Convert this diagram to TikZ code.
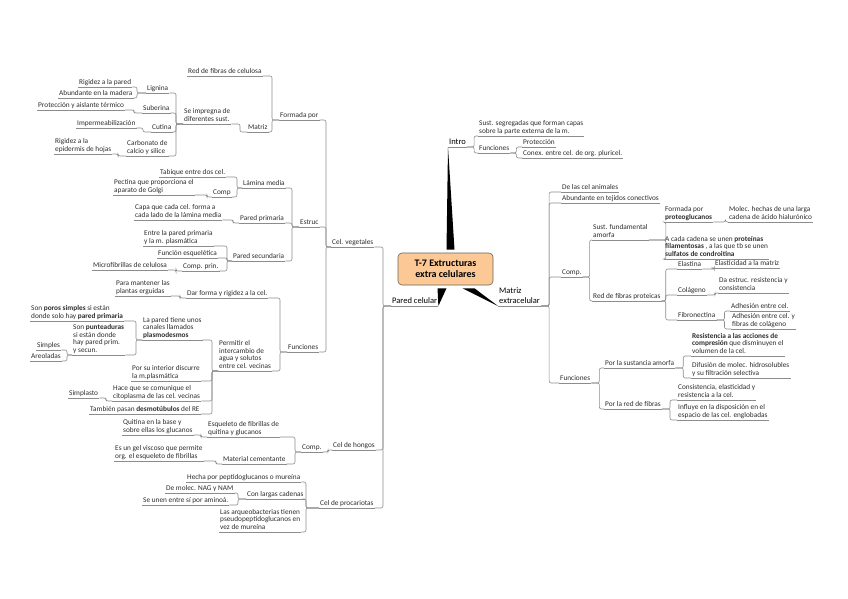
\documentclass[tikz,border=0pt]{standalone}
\usepackage{fontspec}
\setmainfont{Carlito}
\usetikzlibrary{backgrounds}
\definecolor{conncol}{RGB}{140,140,140}
\definecolor{txtcol}{RGB}{45,45,45}
\definecolor{peach}{RGB}{251,200,150}
\definecolor{rootline}{RGB}{110,100,90}
\newcommand\lnk[3][3]{\draw[conn] (#2.south west) -- ++(-#1,0) |- (#3.south east);}
\newcommand\rnk[3][3]{\draw[conn] (#2.south east) -- ++(#1,0) |- (#3.south west);}
\begin{document}
\begin{tikzpicture}[x=1pt,y=-1pt,
  lbl/.style={anchor=south west,font=\fontsize{7.3}{7.6}\selectfont,text=txtcol,align=left,
    inner xsep=1pt,inner ysep=0.8pt,execute at end node={\rule[-1.8pt]{0pt}{2pt}}},
  mainlbl/.style={lbl,font=\fontsize{8.5}{10}\selectfont,text=black},
  conn/.style={draw=conncol,line width=0.6pt,rounded corners=2pt},
  rootbox/.style={draw=rootline,fill=peach,rounded corners=4pt,minimum width=95pt,
    minimum height=32pt,align=center,font=\bfseries\fontsize{10}{11.5}\selectfont,line width=0.6pt,inner sep=1pt}]
\useasboundingbox (0,0) rectangle (848,599);
% root and main branches
\node[rootbox] (root) at (445.5,269) {T-7 Extructuras\\extra celulares};
\node[mainlbl] (intro) at (448,147) {Intro};
\node[mainlbl] (pc) at (391,306) {Pared celular};
\node[mainlbl] (me) at (498,306) {Matriz\\extracelular};
\begin{scope}[on background layer]
\fill[white] (0,0) rectangle (848,599);
\fill[black] ([xshift=1,yshift=3]root.north) -- ([xshift=9,yshift=3]root.north) -- (intro.south west) -- cycle;
\fill[black] ([xshift=-8,yshift=-3]root.south) -- ([xshift=1,yshift=-3]root.south) -- (pc.south east) -- cycle;
\fill[black] ([xshift=17,yshift=-3]root.south) -- ([xshift=29,yshift=-3]root.south) -- (me.south west) -- cycle;
\end{scope}
% left tree
\node[lbl] (cv) at (331,247) {Cel. vegetales};
\node[lbl] (ch) at (332,450) {Cel de hongos};
\node[lbl] (cp) at (319,508) {Cel de procariotas};
\node[lbl] (fp) at (279,120) {Formada por};
\node[lbl] (es) at (299,227) {Estruc};
\node[lbl] (fn) at (287,352) {Funciones};
\node[lbl] (rf) at (187,76) {Red de fibras de celulosa};
\node[lbl] (mz) at (247,132) {Matriz};
\node[lbl] (si) at (183,124) {Se impregna de\\diferentes sust.};
\node[lbl] (lg) at (146,93) {Lignina};
\node[lbl] (sb) at (142,113) {Suberina};
\node[lbl] (ct) at (151,132) {Cutina};
\node[lbl] (cb) at (126,156) {Carbonato de\\calcio y silice};
\node[lbl] (rp) at (78,87) {Rigidez a la pared};
\node[lbl] (am) at (58,98) {Abundante en la madera};
\node[lbl] (pa) at (37,110) {Protección y aislante térmico};
\node[lbl] (im) at (76,128) {Impermeabilización};
\node[lbl] (re) at (54,154) {Rigidez a la\\epidermis de hojas};
\node[lbl] (lm) at (242,188) {Lámina media};
\node[lbl] (pp) at (239,223) {Pared primaria};
\node[lbl] (ps) at (232,261) {Pared secundaria};
\node[lbl] (tb) at (159,177) {Tabique entre dos cel.};
\node[lbl] (cm) at (212,197) {Comp};
\node[lbl] (pe) at (113,195) {Pectina que proporciona el\\aparato de Golgi};
\node[lbl] (cq) at (134,220) {Capa que cada cel. forma a\\cada lado de la lámina media};
\node[lbl] (ep) at (143,246) {Entre la pared primaria\\y la m. plasmática};
\node[lbl] (fe) at (157,258) {Función esquelética};
\node[lbl] (cpr) at (182,271) {Comp. prin.};
\node[lbl] (mc) at (92,270) {Microfibrillas de celulosa};
\node[lbl] (df) at (186,298) {Dar forma y rigidez a la cel.};
\node[lbl] (pi) at (218,371) {Permitir el\\intercambio de\\agua y solutos\\entre cel. vecinas};
\node[lbl] (pm) at (115,296) {Para mantener las\\plantas erguidas};
\node[lbl] (lp) at (142,340) {La pared tiene unos\\canales llamados\\\textbf{plasmodesmos}};
\node[lbl] (pq) at (131,381) {Por su interior discurre\\la m.plasmática};
\node[lbl] (hq) at (112,401) {Hace que se comunique el\\citoplasma de las cel. vecinas};
\node[lbl] (tp) at (89,414) {También pasan \textbf{desmotúbulos} del RE};
\node[lbl] (sp) at (30,321) {Son \textbf{poros simples} si están\\donde solo hay \textbf{pared primaria}};
\node[lbl] (spu) at (72,355) {Son \textbf{punteaduras}\\si están donde\\hay pared prim.\\y secun.};
\node[lbl] (smp) at (36,350) {Simples};
\node[lbl] (ar) at (30,361) {Areoladas};
\node[lbl] (sim) at (68,398) {Simplasto};
\node[lbl] (hc) at (301,452) {Comp.};
\node[lbl] (eq) at (207,437) {Esqueleto de fibrillas de\\quitina y glucanos};
\node[lbl] (mce) at (222,464) {Material cementante};
\node[lbl] (qb) at (122,435) {Quitina en la base y\\sobre ellas los glucanos};
\node[lbl] (gv) at (114,461) {Es un gel viscoso que permite\\org. el esqueleto de fibrillas};
\node[lbl] (hp) at (186,482) {Hecha por peptidoglucanos o mureína};
\node[lbl] (lc) at (246,499) {Con largas cadenas};
\node[lbl] (aq) at (219,532) {Las arqueobacterias tienen\\pseudopeptidoglucanos en\\vez de mureína};
\node[lbl] (dm) at (165,493) {De molec. NAG y NAM};
\node[lbl] (su) at (142,505) {Se unen entre sí por aminoá.};
% right tree
\node[lbl] (ss) at (478,136) {Sust. segregadas que forman capas\\sobre la parte externa de la m.};
\node[lbl] (fi) at (478,153) {Funciones};
\node[lbl] (pro) at (522,147) {Protección};
\node[lbl] (cx) at (522,158) {Conex. entre cel. de org. pluricel.};
\node[lbl] (dl) at (561,192) {De las cel animales};
\node[lbl] (ab) at (561,203) {Abundante en tejidos conectivos};
\node[lbl] (co) at (561,277) {Comp.};
\node[lbl] (fu) at (559,383) {Funciones};
\node[lbl] (sf) at (592,240) {Sust. fundamental\\amorfa};
\node[lbl] (rfp) at (592,301) {Red de fibras proteicas};
\node[lbl] (fpg) at (664,222) {Formada por\\\textbf{proteoglucanos}};
\node[lbl] (ac) at (664,259) {A cada cadena se unen \textbf{proteínas}\\\textbf{filamentosas} , a las que tb se unen\\\textbf{sulfatos de condroitina}};
\node[lbl] (mh) at (728,222) {Molec. hechas de una larga\\cadena de ácido hialurónico};
\node[lbl] (el) at (677,269) {Elastina};
\node[lbl] (cg) at (677,295) {Colágeno};
\node[lbl] (fb) at (677,320) {Fibronectina};
\node[lbl] (em) at (714,268) {Elasticidad a la matriz};
\node[lbl] (de) at (718,293) {Da estruc. resistencia y\\consistencia};
\node[lbl] (ae1) at (730,311) {Adhesión entre cel.};
\node[lbl] (ae2) at (731,329) {Adhesión entre cel. y\\fibras de colágeno};
\node[lbl] (psa) at (604,368) {Por la sustancia amorfa};
\node[lbl] (prf) at (604,409) {Por la red de fibras};
\node[lbl] (rs) at (691,356) {\textbf{Resistencia a las acciones de}\\\textbf{compresión} que disminuyen el\\volumen de la cel.};
\node[lbl] (dif) at (691,378) {Difusión de molec. hidrosolubles\\y su filtración selectiva};
\node[lbl] (cs) at (677,400) {Consistencia, elasticidad y\\resistencia a la cel.};
\node[lbl] (inf) at (677,420) {Influye en la disposición en el\\espacio de las cel. englobadas};
% underlines
\foreach \n in {intro,pc,me,cv,ch,cp,fp,es,fn,rf,mz,si,lg,sb,ct,cb,rp,am,pa,im,re,lm,pp,ps,tb,cm,pe,cq,ep,fe,cpr,mc,df,pi,pm,lp,pq,hq,tp,sp,spu,smp,ar,sim,hc,eq,mce,qb,gv,hp,lc,aq,dm,su,ss,fi,pro,cx,dl,ab,co,fu,sf,rfp,fpg,ac,mh,el,cg,fb,em,de,ae1,ae2,psa,prf,rs,dif,cs,inf}
  \draw[conn] (\n.south west) -- (\n.south east);
% left connectors
\lnk[8]{pc}{cv} \lnk[8]{pc}{ch} \lnk[8]{pc}{cp}
\lnk[5]{cv}{fp} \lnk[5]{cv}{es} \lnk[5]{cv}{fn}
\lnk[7]{fp}{rf} \lnk[7]{fp}{mz}
\lnk[7]{mz}{si}
\lnk[7]{si}{lg} \lnk[7]{si}{sb} \lnk[7]{si}{ct} \lnk[7]{si}{cb}
\lnk[9]{lg}{rp} \lnk[9]{lg}{am}
\lnk[8]{sb}{pa}
\lnk[8]{ct}{im}
\lnk[8]{cb}{re}
\lnk[7]{es}{lm} \lnk[7]{es}{pp} \lnk[7]{es}{ps}
\lnk[5]{lm}{tb} \lnk[5]{lm}{cm}
\lnk[5]{cm}{pe}
\lnk[6]{pp}{cq}
\lnk[5]{ps}{ep} \lnk[5]{ps}{fe} \lnk[5]{ps}{cpr}
\lnk[6]{cpr}{mc}
\lnk[7]{fn}{df} \lnk[7]{fn}{pi}
\lnk[6]{df}{pm}
\lnk[6]{pi}{lp} \lnk[6]{pi}{pq} \lnk[6]{pi}{hq} \lnk[6]{pi}{tp}
\lnk[6]{lp}{sp} \lnk[6]{lp}{spu}
\lnk[5]{spu}{smp} \lnk[5]{spu}{ar}
\lnk[6]{hq}{sim}
\lnk[4]{ch}{hc}
\lnk[6]{hc}{eq} \lnk[6]{hc}{mce}
\lnk[6]{eq}{qb}
\lnk[6]{mce}{gv}
\lnk[13]{cp}{hp} \lnk[13]{cp}{lc} \lnk[13]{cp}{aq}
\lnk[8]{lc}{dm} \lnk[8]{lc}{su}
% right connectors
\rnk[7]{intro}{ss} \rnk[7]{intro}{fi}
\rnk[6]{fi}{pro} \rnk[6]{fi}{cx}
\rnk[8]{me}{dl} \rnk[8]{me}{ab} \rnk[8]{me}{co} \rnk[8]{me}{fu}
\rnk[7]{co}{sf} \rnk[7]{co}{rfp}
\rnk[17]{sf}{fpg} \rnk[17]{sf}{ac}
\rnk[12]{fpg}{mh}
\rnk[4]{rfp}{el} \rnk[4]{rfp}{cg} \rnk[4]{rfp}{fb}
\rnk[12]{el}{em}
\rnk[8]{cg}{de}
\rnk[8]{fb}{ae1} \rnk[8]{fb}{ae2}
\rnk[8]{fu}{psa} \rnk[8]{fu}{prf}
\rnk[8]{psa}{rs} \rnk[8]{psa}{dif}
\rnk[8]{prf}{cs} \rnk[8]{prf}{inf}
\end{tikzpicture}
\end{document}
